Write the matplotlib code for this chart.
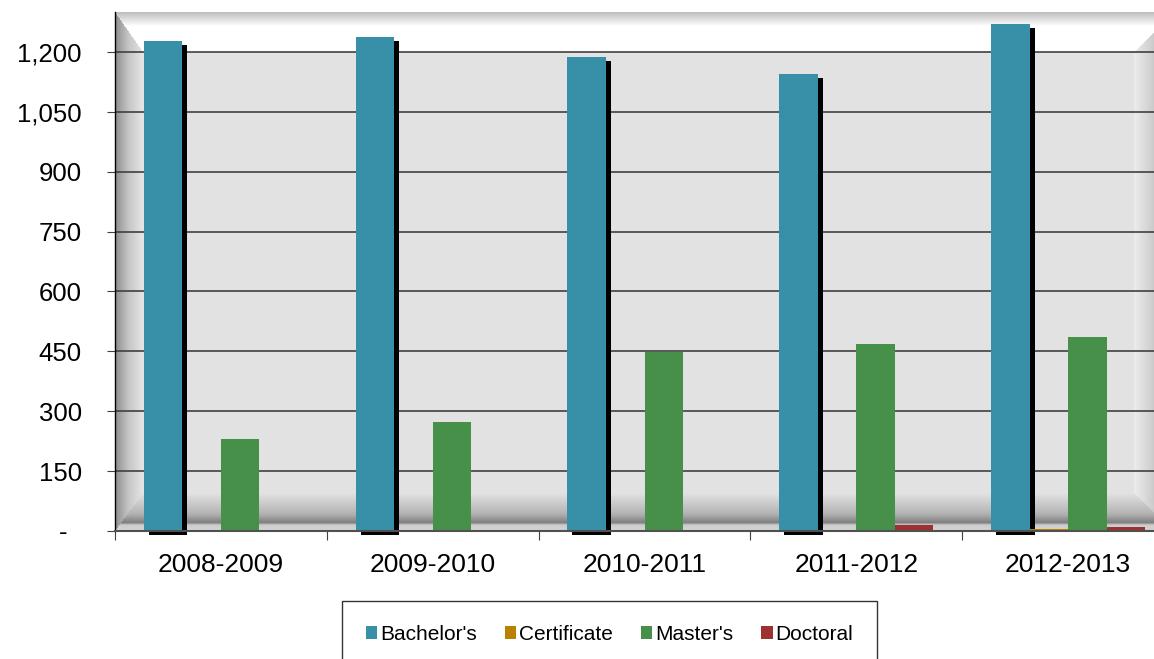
import numpy as np
import matplotlib
matplotlib.use('Agg')
import matplotlib.pyplot as plt
from matplotlib.patches import Patch
from matplotlib.ticker import FuncFormatter
from matplotlib.transforms import offset_copy

plt.rcParams['font.family'] = ['Liberation Sans', 'DejaVu Sans']

# Datos
years = ['2008-2009', '2009-2010', '2010-2011', '2011-2012', '2012-2013']
series = ["Bachelor's", 'Certificate', "Master's", 'Doctoral']
bachelors = [1227, 1237, 1187, 1145, 1270]
certificate = [0, 0, 0, 0, 5]
masters = [231, 272, 449, 469, 487]
doctoral = [0, 0, 3, 15, 9]
colors = ['#3890a8', '#b88200', '#46904a', '#9e3132']

fig = plt.figure(figsize=(11.54, 6.59), dpi=100)
ax = fig.add_axes([115 / 1154, (659 - 531) / 659, 1059 / 1154, 519 / 659])

# Fondo con bisel (tipo Excel)
W, H = 1059, 519
tt, tb, tl, tr = 40.0, 38.0, 28.0, 40.0
px = np.arange(W) + 0.5
py = np.arange(H) + 0.5
PX, PY = np.meshgrid(px, py)
d = np.stack([PY / tt, (H - PY) / tb, PX / tl, (W - PX) / tr])
side = d.argmin(axis=0)
m = d.min(axis=0)
g = np.full((H, W), 0.89)
grads = [
    ([0, 0.35, 1], [0.74, 1.0, 1.0]),
    ([0, 0.16, 0.22, 0.45, 1], [0.84, 0.80, 0.50, 0.70, 0.89]),
    ([0, 0.5, 1], [0.55, 0.78, 0.90]),
    ([0, 1], [0.66, 0.93]),
]
for k, (xs, ys) in enumerate(grads):
    mask = (side == k) & (m < 1)
    g[mask] = np.interp(m[mask], xs, ys)
img = np.dstack([g, g, g])
ax.imshow(img, extent=(-0.5, 4.5, 0, 1300), aspect='auto', zorder=0,
          interpolation='bilinear')

x = np.arange(len(years))
w = 0.182
data = [bachelors, certificate, masters, doctoral]

# sombra de la serie Bachelor's
shadow = offset_copy(ax.transData, fig=fig, x=5, y=-4, units='dots')
ax.bar(x - 1.5 * w, bachelors, w, color='black', transform=shadow,
       zorder=1.9, clip_on=False)

for i, (vals, c) in enumerate(zip(data, colors)):
    ax.bar(x + (i - 1.5) * w, vals, w, color=c, zorder=2)

ax.set_xlim(-0.5, 4.5)
ax.set_ylim(0, 1300)
ax.set_yticks(np.arange(0, 1201, 150))
ax.yaxis.set_major_formatter(FuncFormatter(lambda v, p: '-  ' if v == 0 else f'{v:,.0f}'))
ax.set_axisbelow(True)
ax.yaxis.grid(True, color='#404040', lw=1.2)

ax.set_xticks(np.arange(-0.5, 4.6, 1))
ax.set_xticklabels([])
ax.set_xticks(x, minor=True)
ax.set_xticklabels(years, minor=True)
ax.tick_params(axis='x', which='minor', length=0, labelsize=19, pad=16)
ax.tick_params(axis='x', which='major', length=6.5, color='#404040')
ax.tick_params(axis='y', length=6, color='#404040', labelsize=18.5, pad=18)

for s in ['top', 'right']:
    ax.spines[s].set_visible(False)
ax.spines['left'].set_color('black')
ax.spines['left'].set_linewidth(1)
ax.spines['bottom'].set_color('#505050')
ax.spines['bottom'].set_linewidth(1.5)

handles = [Patch(facecolor=c, edgecolor='none') for c in colors]
leg = fig.legend(handles, series, loc='upper center', ncol=4,
                 bbox_to_anchor=(609.5 / 1154, 1 - 601 / 659),
                 fontsize=15, handlelength=0.55, handleheight=0.55,
                 handletextpad=0.15, columnspacing=1.33, borderpad=1.15,
                 fancybox=False, frameon=True, borderaxespad=0)
leg.get_frame().set_edgecolor('black')
leg.get_frame().set_linewidth(1)

fig.savefig('out.png', dpi=100)
